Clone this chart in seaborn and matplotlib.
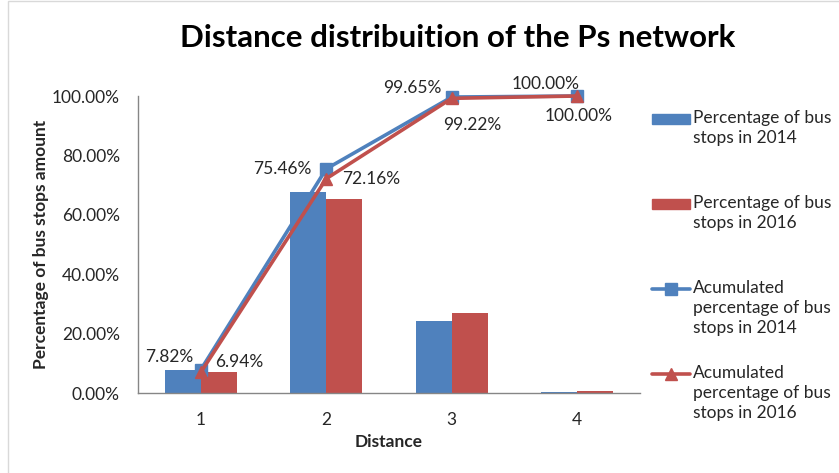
import numpy as np
import pandas as pd
import seaborn as sns
import matplotlib.pyplot as plt
from matplotlib.patches import Rectangle
from matplotlib.lines import Line2D
from matplotlib.ticker import FuncFormatter, FixedLocator

distances = ["1", "2", "3", "4"]
pct_2014 = [0.0782, 0.6764, 0.2419, 0.0035]
pct_2016 = [0.0694, 0.6522, 0.2706, 0.0078]
cum_2014 = [0.0782, 0.7546, 0.9965, 1.0000]
cum_2016 = [0.0694, 0.7216, 0.9922, 1.0000]

bar_labels = ["Percentage of bus\nstops in 2014", "Percentage of bus\nstops in 2016"]
line_labels = ["Acumulated\npercentage of bus\nstops in 2014",
               "Acumulated\npercentage of bus\nstops in 2016"]

blue = "#4F81BD"
red = "#C0504D"
txt = "#262626"
fs = 12.5

sns.set_style("white")
plt.rcParams["font.family"] = ["Lato", "DejaVu Sans"]

bars = pd.DataFrame({
    "Distance": distances * 2,
    "value": pct_2014 + pct_2016,
    "series": [bar_labels[0]] * 4 + [bar_labels[1]] * 4,
})

fig = plt.figure(figsize=(8.39, 4.73), dpi=100)
ax = fig.add_axes([138 / 839, 1 - 393 / 473, (640 - 138) / 839, (393 - 96) / 473])

sns.barplot(data=bars, x="Distance", y="value", hue="series", palette=[blue, red],
            width=0.57, saturation=1, linewidth=0, legend=False, ax=ax)

pos = np.arange(len(distances))
ax.plot(pos, cum_2014, color=blue, lw=2.6, marker="s", ms=8, clip_on=False, zorder=5)
ax.plot(pos, cum_2016, color=red, lw=2.6, marker="^", ms=9, clip_on=False, zorder=6)

# data labels (offsets in pixels)
off_2014 = [(-32, 13), (-44, 0), (-39, 9), (-32, 12)]
off_2016 = [(39, 10), (45, 0), (20, -27), (1, -20)]
for i in range(len(distances)):
    ax.annotate(f"{cum_2014[i] * 100:.2f}%", (pos[i], cum_2014[i]), xytext=off_2014[i],
                textcoords="offset pixels", ha="center", va="center", fontsize=fs, color=txt)
    ax.annotate(f"{cum_2016[i] * 100:.2f}%", (pos[i], cum_2016[i]), xytext=off_2016[i],
                textcoords="offset pixels", ha="center", va="center", fontsize=fs, color=txt)

ax.set_xlim(-0.5, 3.5)
ax.set_ylim(0, 1.0)
ax.set_yticks(np.arange(0, 1.01, 0.2))
ax.yaxis.set_major_formatter(FuncFormatter(lambda v, p: f"{v * 100:.2f}%"))
ax.xaxis.set_minor_locator(FixedLocator(np.arange(-0.5, 3.6, 1)))
ax.tick_params(axis="x", which="major", length=0, labelsize=fs, pad=14, colors=txt)
ax.tick_params(axis="x", which="minor", length=5, color="#868686", direction="out")
ax.tick_params(axis="y", length=5, color="#868686", direction="out", labelsize=fs,
               pad=8, labelcolor=txt)
for s in ["top", "right"]:
    ax.spines[s].set_visible(False)
for s in ["left", "bottom"]:
    ax.spines[s].set_color("#868686")
    ax.spines[s].set_linewidth(1)

ax.set_xlabel("Distance", fontsize=fs, fontweight="bold", color=txt)
ax.set_ylabel("Percentage of bus stops amount", fontsize=fs, fontweight="bold", color=txt)
ax.xaxis.set_label_coords(0.5, -0.137)
ax.yaxis.set_label_coords(-0.178, 0.5)

fig.text(458 / 839, 1 - 38 / 473, "Distance distribuition of the Ps network",
         ha="center", va="center", fontsize=22.5, fontweight="bold", color="black")

# legend: one slot per series, handle level with the first text line
handles = [
    Rectangle((0, 0), 1, 1, color=blue),
    Rectangle((0, 0), 1, 1, color=red),
    Line2D([], [], color=blue, lw=2.6, marker="s", ms=8),
    Line2D([], [], color=red, lw=2.6, marker="^", ms=9),
]
labels = bar_labels + line_labels
slot_y = [120, 205, 290, 375]
for h, lab, y in zip(handles, labels, slot_y):
    fig.legend([h], [""], loc="center left", bbox_to_anchor=(652 / 839, 1 - y / 473),
               frameon=False, fontsize=fs, handlelength=2.2, handleheight=0.55,
               handletextpad=0, borderpad=0, borderaxespad=0)
    fig.text(693 / 839, 1 - (y - 10) / 473, lab, ha="left", va="top", fontsize=fs,
             color=txt, linespacing=1.3)

# thin chart frame
fig.add_artist(Rectangle((8 / 839, -0.1), 1.2, 1.1 - 1 / 473, transform=fig.transFigure,
                         fill=False, edgecolor="#D9D9D9", lw=1))

fig.savefig("out.png", dpi=100)
